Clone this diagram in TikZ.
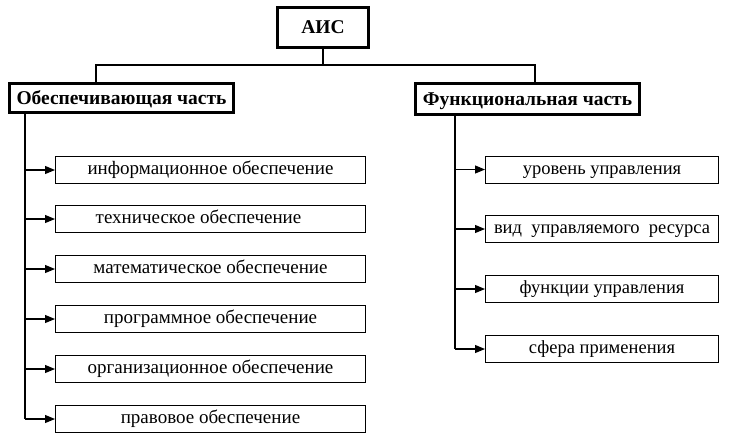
\documentclass[tikz,border=0pt]{standalone}
\usepackage{fontspec}
\setmainfont{Liberation Serif}
\usetikzlibrary{arrows.meta}
\begin{document}
\begin{tikzpicture}[x=1pt,y=-1pt,
  headbox/.style={draw, line width=3pt, inner sep=0pt, text height=14pt, text depth=2pt, font=\bfseries\fontsize{19.5}{24}\selectfont},
  leftbox/.style={draw, line width=1pt, inner sep=0pt, minimum width=310pt, minimum height=27pt, text height=13pt, text depth=4pt, font=\fontsize{19}{23}\selectfont},
  rightbox/.style={draw, line width=1pt, inner sep=0pt, minimum width=233pt, minimum height=27pt, text height=13pt, text depth=4pt, font=\fontsize{18.5}{22}\selectfont},
  conn/.style={line width=1.1pt},
  arr/.style={line width=1.1pt, -{Triangle[length=10pt,width=8pt]}}]
\useasboundingbox (0,0) rectangle (734,445);
\fill[white] (0,0) rectangle (734,445);
\node[headbox, minimum width=91pt, minimum height=40pt] (ais) at (323,27.5) {АИС};
\node[headbox, minimum width=224pt, minimum height=29pt] (ob) at (121.5,98) {Обеспечивающая часть};
\node[headbox, minimum width=224pt, minimum height=31pt] (fn) at (527.5,99) {Функциональная часть};
\coordinate (bus) at (323,65);
\draw[conn] (ais.south) -- (bus);
\draw[conn] ([xshift=-25.5pt]ob.north) |- (bus) -| ([xshift=7.5pt]fn.north);
% left children
\node[leftbox] (l1) at (210.5,170) {информационное обеспечение};
\node[leftbox] (l2) at (210.5,219) {\hspace*{-24pt}техническое обеспечение};
\node[leftbox] (l3) at (210.5,269) {математическое обеспечение};
\node[leftbox] (l4) at (210.5,319) {программное обеспечение};
\node[leftbox] (l5) at (210.5,369) {организационное обеспечение};
\node[leftbox] (l6) at (210.5,419) {правовое обеспечение};
\coordinate (lt) at ([xshift=-96.5pt]ob.south);
\draw[conn] (lt) -- (lt |- l6.west);
\foreach \i in {1,...,6} { \draw[arr] (lt |- l\i.west) -- (l\i.west); }
% right children
\node[rightbox] (r1) at (602,169.5) {уровень управления};
\node[rightbox] (r2) at (602,229) {вид\ \ управляемого\ \ ресурса};
\node[rightbox] (r3) at (602,289) {функции управления};
\node[rightbox] (r4) at (602,349) {сфера применения};
\coordinate (rt) at ([xshift=-72.5pt]fn.south);
\draw[conn] (rt) -- (rt |- r4.west);
\foreach \i in {1,...,4} { \draw[arr] (rt |- r\i.west) -- (r\i.west); }
\end{tikzpicture}
\end{document}
